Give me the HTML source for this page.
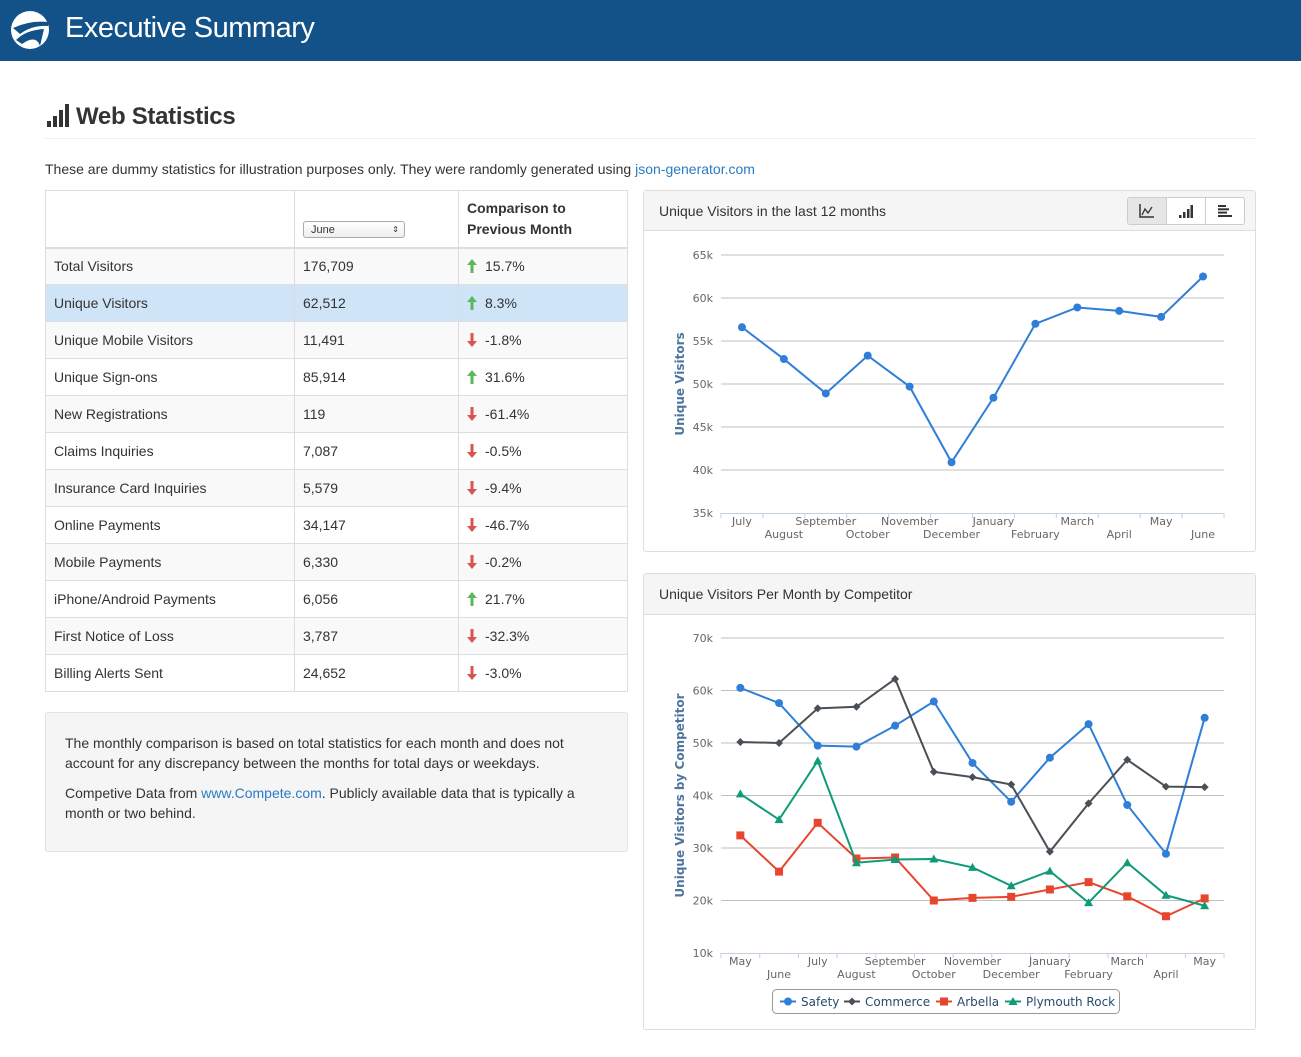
<!DOCTYPE html>
<html><head><meta charset="utf-8">
<style>
*{box-sizing:border-box;margin:0;padding:0}
body{width:1301px;height:1057px;background:#fff;font-family:"Liberation Sans",sans-serif;color:#333;position:relative;overflow:hidden}
.abs{position:absolute}
#hdr{left:0;top:0;width:1301px;height:61px;background:#125289}
#hdr .t{left:65px;top:12px;color:#fff;font-size:29px;letter-spacing:-0.5px}
table{border-collapse:collapse;font-size:14px}
td{border:1px solid #ddd;height:37px;padding:0 8px;vertical-align:middle}
.panel{border:1px solid #ddd;border-radius:3px;background:#fff}
.ph{background:#f5f5f5;border-bottom:1px solid #ddd;font-size:14px;padding-left:15px}
a{color:#2a7ac6;text-decoration:none}
.arr{display:inline-block;vertical-align:-2px;margin-right:8px}
</style></head><body>
<div id="hdr" class="abs">
<svg class="abs" style="left:10px;top:10px" width="40" height="40"><circle cx="20" cy="20" r="19" fill="#fff"/><path d="M3 18 Q20 10 38 12 L38 16 Q22 15 10 24 Z M6 30 Q16 20 34 19 L30 36 Q26 24 12 34 Z" fill="#125289"/></svg>
<div class="abs t">Executive Summary</div>
</div>
<div class="abs" style="left:46px;top:103px"><svg width="24" height="24"><rect x="1" y="18" width="4" height="6" fill="#333"/><rect x="7" y="13" width="4" height="11" fill="#333"/><rect x="13" y="7" width="4" height="17" fill="#333"/><rect x="19" y="1" width="4" height="23" fill="#333"/></svg></div>
<div class="abs" style="left:76px;top:103px;font-size:24px;font-weight:bold;letter-spacing:-0.3px">Web Statistics</div>
<div class="abs" style="left:45px;top:138px;width:1210px;height:1px;background:#eee"></div>
<div class="abs" style="left:45px;top:161px;font-size:14px">These are dummy statistics for illustration purposes only. They were randomly generated using <a href="#">json-generator.com</a></div>

<table class="abs" style="left:45px;top:190px;width:583px">
<tr style="height:57px"><td style="width:249px;border-bottom:2px solid #ddd"></td><td style="width:164px;vertical-align:bottom;padding-bottom:9px;border-bottom:2px solid #ddd"><div style="width:102px;height:17px;border:1px solid #aaa;border-radius:3px;font-size:11px;padding-left:7px;line-height:16px;background:linear-gradient(#fff,#eee);position:relative">June<span style="position:absolute;right:5px;font-size:8px">⇕</span></div></td><td style="font-weight:bold;border-bottom:2px solid #ddd;line-height:21px">Comparison to<br>Previous Month</td></tr>
<tbody id="tb"></tbody>
</table>
<div class="abs" style="left:45px;top:712px;width:583px;height:140px;background:#f5f5f5;border:1px solid #e3e3e3;border-radius:3px;padding:20px 19px;font-size:14px;line-height:20px">
<p>The monthly comparison is based on total statistics for each month and does not account for any discrepancy between the months for total days or weekdays.</p>
<p style="margin-top:10px">Competive Data from <a href="#">www.Compete.com</a>. Publicly available data that is typically a month or two behind.</p>
</div>

<div class="abs panel" style="left:643px;top:190px;width:613px;height:362px">
<div class="ph" style="height:40px;line-height:40px">Unique Visitors in the last 12 months</div>
<div class="abs" style="left:483px;top:6px;width:118px;height:28px;border:1px solid #ccc;border-radius:3px;display:flex;background:#fff">
<div style="width:39px;background:#e6e6e6;border-right:1px solid #ccc;display:flex;align-items:center;justify-content:center"><svg width="16" height="14"><path d="M1 0V13H15" stroke="#333" fill="none" stroke-width="1.5"/><path d="M3 11L6 5L9 9L13 3" stroke="#333" fill="none" stroke-width="1.3"/></svg></div>
<div style="width:39px;border-right:1px solid #ccc;display:flex;align-items:center;justify-content:center"><svg width="14" height="13"><rect x="0" y="10" width="2.5" height="3" fill="#333"/><rect x="4" y="7" width="2.5" height="6" fill="#333"/><rect x="8" y="4" width="2.5" height="9" fill="#333"/><rect x="11.5" y="0" width="2.5" height="13" fill="#333"/></svg></div>
<div style="width:38px;display:flex;align-items:center;justify-content:center"><svg width="14" height="12"><rect y="0" width="8" height="2" fill="#333"/><rect y="3.3" width="11" height="2" fill="#333"/><rect y="6.6" width="9" height="2" fill="#333"/><rect y="10" width="14" height="2" fill="#333"/></svg></div>
</div>
</div>
<div class="abs panel" style="left:643px;top:573px;width:613px;height:457px">
<div class="ph" style="height:41px;line-height:41px">Unique Visitors Per Month by Competitor</div>
</div>
<svg id="c1" class="abs" style="left:0;top:0" width="1301" height="1057"></svg>

<script>
const rows=[["Total Visitors","176,709",1,"15.7%"],["Unique Visitors","62,512",1,"8.3%"],["Unique Mobile Visitors","11,491",0,"-1.8%"],["Unique Sign-ons","85,914",1,"31.6%"],["New Registrations","119",0,"-61.4%"],["Claims Inquiries","7,087",0,"-0.5%"],["Insurance Card Inquiries","5,579",0,"-9.4%"],["Online Payments","34,147",0,"-46.7%"],["Mobile Payments","6,330",0,"-0.2%"],["iPhone/Android Payments","6,056",1,"21.7%"],["First Notice of Loss","3,787",0,"-32.3%"],["Billing Alerts Sent","24,652",0,"-3.0%"]];
const upSvg='<svg class="arr" width="10" height="14"><path d="M5 0L10 6H6.5V14H3.5V6H0Z" fill="#5cb85c"/></svg>';
const dnSvg='<svg class="arr" width="10" height="14"><path d="M5 14L10 8H6.5V0H3.5V8H0Z" fill="#d9534f"/></svg>';
const tb=document.getElementById('tb');
rows.forEach((r,i)=>{const tr=document.createElement('tr');


tr.style.background=i==1?'#d0e4f7':(i%2==0?'#f9f9f9':'#fff');
tr.innerHTML='<td>'+r[0]+'</td><td>'+r[1]+'</td><td>'+(r[2]?upSvg:dnSvg)+r[3]+'</td>';
tb.appendChild(tr);});

const months1=["July","August","September","October","November","December","January","February","March","April","May","June"];
const visitors=[56.6,52.9,48.9,53.3,49.7,40.9,48.4,57.0,58.9,58.5,57.8,62.5];
const ticks1=[35,40,45,50,55,60,65];
const months2=["May","June","July","August","September","October","November","December","January","February","March","April","May"];
const safety=[60.5,57.6,49.5,49.3,53.3,57.9,46.2,38.8,47.2,53.6,38.2,28.9,54.8];
const commerce=[50.2,50.0,56.6,56.9,62.2,44.5,43.5,42.1,29.3,38.5,46.8,41.7,41.6];
const arbella=[32.4,25.5,34.8,28.0,28.2,20.0,20.5,20.7,22.1,23.5,20.8,17.0,20.4];
const plymouth=[40.3,35.4,46.6,27.2,27.8,27.9,26.3,22.8,25.6,19.6,27.2,21.0,19.0];
const ticks2=[10,20,30,40,50,60,70];

const svg=document.getElementById('c1');const NS='http://www.w3.org/2000/svg';
function el(t,a,txt,name){const e=document.createElementNS(NS,t);for(const k in a)e.setAttribute(k,a[k]);if(txt!=null)e.textContent=txt;


svg.appendChild(e);return e;}
function chart(o){
 const x0=721,x1=1224,n=o.cats.length,bw=(x1-x0)/n;
 const ys=v=>o.yb-(v-o.ymin)/(o.ymax-o.ymin)*(o.yb-o.yt);
 const xs=i=>x0+bw*(i+.5);
 o.ticks.forEach(t=>{const y=ys(t);
  if(t!=o.ymin)el('line',{x1:x0,x2:x1,y1:y,y2:y,stroke:'#c0c0c0','stroke-width':1},null,'gridline');
  el('text',{x:713,y:y+4,'text-anchor':'end','font-size':11,fill:'#666','font-family':'DejaVu Sans,sans-serif'},t+'k','y-tick-label');});
 el('line',{x1:x0,x2:x1,y1:o.yb+.5,y2:o.yb+.5,stroke:'#c0d0e0'},null,'x-axis-line');
 for(let i=0;i<=n;i++)el('line',{x1:x0+bw*i,x2:x0+bw*i,y1:o.yb,y2:o.yb+5,stroke:'#c0d0e0'},null,'x-tick');
 o.cats.forEach((c,i)=>el('text',{x:xs(i),y:o.yb+12+(i%2)*13,'text-anchor':'middle','font-size':11,fill:'#666','font-family':'DejaVu Sans,sans-serif'},c,'x-tick-label'));
 const cy=(o.yt+o.yb)/2;
 el('text',{x:684,y:cy,transform:'rotate(-90 684 '+cy+')','text-anchor':'middle','font-size':12,'font-weight':'bold',fill:'#4d759e','font-family':'DejaVu Sans,sans-serif'},o.title,'y-axis-title');
 o.series.forEach(s=>{
  el('polyline',{points:s.d.map((v,i)=>xs(i)+','+ys(v)).join(' '),fill:'none',stroke:s.c,'stroke-width':2},null,'series-line-'+s.n);
  s.d.forEach((v,i)=>marker(s.m,xs(i),ys(v),s.c,s.n));});
}
function marker(m,x,y,c,n){
 if(m=='c')el('circle',{cx:x,cy:y,r:4,fill:c},null,'point-'+n);
 else if(m=='d')el('path',{d:`M${x} ${y-4}L${x+4} ${y}L${x} ${y+4}L${x-4} ${y}Z`,fill:c},null,'point-'+n);
 else if(m=='s')el('rect',{x:x-4,y:y-4,width:8,height:8,fill:c},null,'point-'+n);
 else el('path',{d:`M${x} ${y-4.5}L${x+4.5} ${y+3.5}L${x-4.5} ${y+3.5}Z`,fill:c},null,'point-'+n);
}
chart({cats:months1,ymin:35,ymax:65,yt:255,yb:513,ticks:ticks1,title:'Unique Visitors',series:[{d:visitors,c:'#2f7ed8',m:'c',n:'visitors'}]});
const ser=[{d:safety,c:'#2f7ed8',m:'c',n:'Safety'},{d:commerce,c:'#4a5057',m:'d',n:'Commerce'},{d:arbella,c:'#e8452f',m:'s',n:'Arbella'},{d:plymouth,c:'#0d9b78',m:'t',n:'Plymouth Rock'}];
chart({cats:months2,ymin:10,ymax:70,yt:638,yb:953,ticks:ticks2,title:'Unique Visitors by Competitor',series:ser});
el('rect',{x:772.5,y:989.5,width:347,height:24,rx:4,fill:'#fff',stroke:'#999'},null,'legend-box');
const lx=[780,844,936,1005];
ser.forEach((s,i)=>{const x=lx[i];
 el('line',{x1:x,x2:x+16,y1:1001.5,y2:1001.5,stroke:s.c,'stroke-width':2},null,'legend-line');
 marker(s.m,x+8,1001.5,s.c,'legend-'+s.n);
 el('text',{x:x+21,y:1006,'font-size':12,fill:'#274b6d','font-family':'DejaVu Sans,sans-serif'},s.n,'legend-entry');});
</script>
</body></html>
